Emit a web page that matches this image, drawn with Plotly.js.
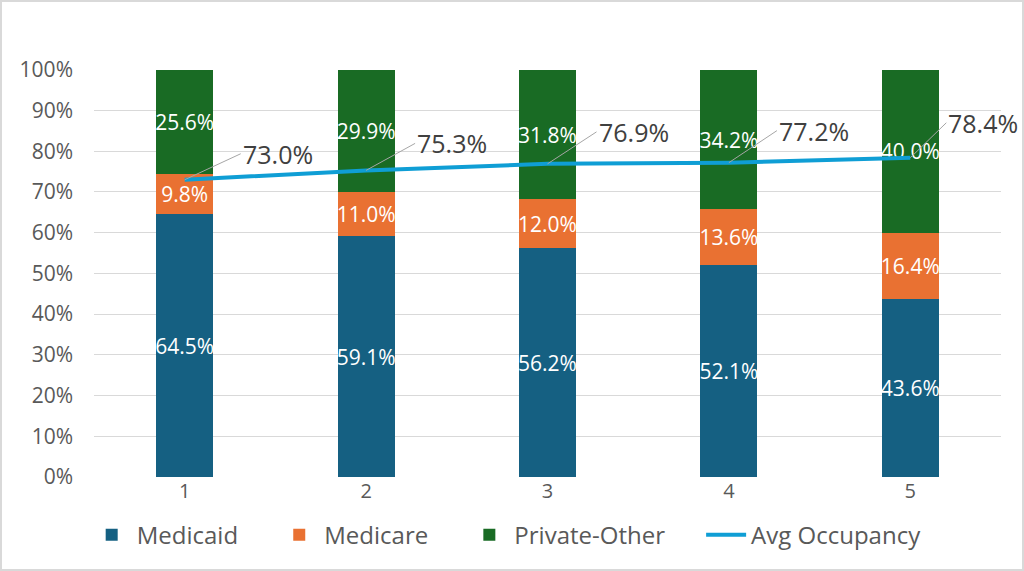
<!DOCTYPE html>
<html>
<head>
<meta charset="utf-8">
<script src="https://cdn.plot.ly/plotly-3.0.1.min.js"></script>
<style>
html,body{margin:0;padding:0;background:#fff;}
#wrap{width:1024px;height:571px;box-sizing:border-box;border:2px solid #d9d9d9;}
#chart{width:1020px;height:567px;}
</style>
</head>
<body>
<div id="wrap"><div id="chart"></div></div>
<script>
const categories = ['1', '2', '3', '4', '5'];
const seriesNames = ['Medicaid', 'Medicare', 'Private-Other', 'Avg Occupancy'];
const medicaid = [64.5, 59.1, 56.2, 52.1, 43.6];
const medicare = [9.8, 11.0, 12.0, 13.6, 16.4];
const privateOther = [25.6, 29.9, 31.8, 34.2, 40.0];
const avgOccupancy = [73.0, 75.3, 76.9, 77.2, 78.4];
const yTicks = [0, 10, 20, 30, 40, 50, 60, 70, 80, 90, 100];

const FONT = '"Open Sans", sans-serif';
const PAD = '\u00a0\u00a0\u00a0\u00a0\u00a0';
// label offsets (pixels) for the occupancy callouts
const labelDX = [56, 49, 49, 48, 36];
const labelDY = [-26, -27, -32, -32, -35];

function barTrace(name, vals, color) {
  return {
    type: 'bar', name: name + PAD, x: categories, y: vals,
    marker: {color: color},
    text: vals.map(v => v.toFixed(1) + '%'),
    textposition: 'inside', insidetextanchor: 'middle',
    constraintext: 'none', textangle: 0,
    insidetextfont: {family: FONT, size: 21, color: '#ffffff'},
    hoverinfo: 'skip'
  };
}

const traces = [
  barTrace(seriesNames[0], medicaid, '#156082'),
  barTrace(seriesNames[1], medicare, '#E97132'),
  barTrace(seriesNames[2], privateOther, '#196B24'),
  {
    type: 'scatter', mode: 'lines', name: seriesNames[3],
    x: categories, y: avgOccupancy,
    line: {color: '#0F9ED5', width: 4},
    hoverinfo: 'skip'
  }
];

const annotations = categories.map((c, i) => ({
  x: i, y: avgOccupancy[i], xref: 'x', yref: 'y',
  text: avgOccupancy[i].toFixed(1) + '%',
  showarrow: true, arrowhead: 0, arrowwidth: 1, arrowcolor: '#a6a6a6',
  standoff: 0, startstandoff: 0,
  ax: labelDX[i], ay: labelDY[i], xanchor: 'left', yanchor: 'middle',
  font: {family: FONT, size: 25, color: '#404040'}
}));

const layout = {
  width: 1020, height: 567,
  margin: {l: 92, r: 21, t: 67, b: 91},
  paper_bgcolor: '#ffffff', plot_bgcolor: '#ffffff',
  barmode: 'stack', bargap: 0.686,
  font: {family: FONT, color: '#595959'},
  showlegend: true,
  legend: {
    orientation: 'h', x: 0.455, xanchor: 'center', y: -0.14, yanchor: 'middle',
    font: {family: FONT, size: 24, color: '#595959'}, traceorder: 'normal',
    itemwidth: 40
  },
  xaxis: {
    type: 'category', range: [-0.5, 4.5], autorange: false,
    showgrid: false, zeroline: false, showline: false,
    ticks: '', tickfont: {family: FONT, size: 20, color: '#595959'}
  },
  yaxis: {
    range: [0, 100.2], autorange: false, tickvals: yTicks, ticktext: yTicks.map(v => v + '%'),
    showgrid: true, gridcolor: '#d9d9d9', gridwidth: 1,
    zeroline: false, showline: false, ticks: '',
    ticklabelstandoff: 20,
    tickfont: {family: FONT, size: 21, color: '#595959'}
  },
  annotations: annotations,
  hovermode: false
};

Plotly.newPlot('chart', traces, layout, {displayModeBar: false, staticPlot: true});
</script>
</body>
</html>
